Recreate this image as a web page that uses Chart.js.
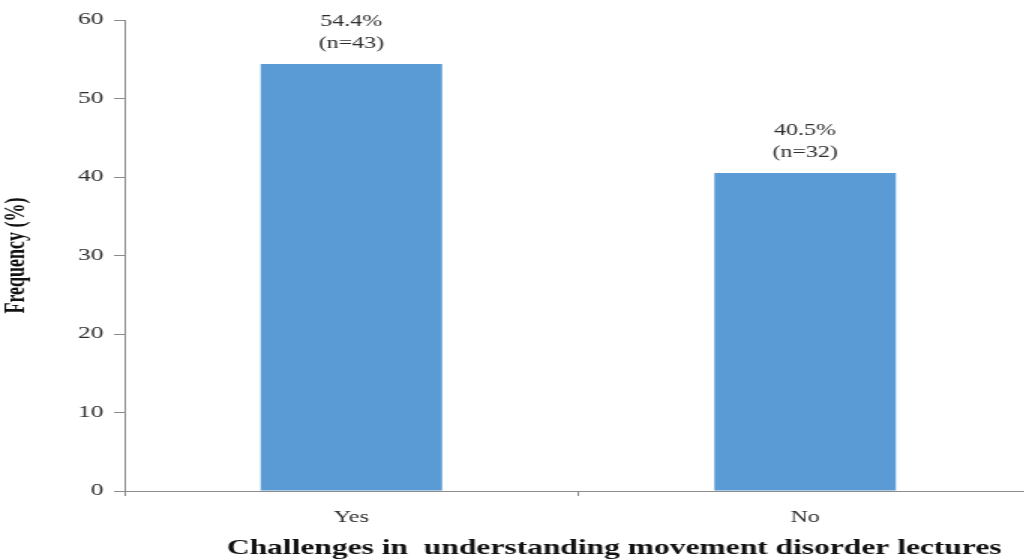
<!DOCTYPE html>
<html>
<head>
<meta charset="utf-8">
<title>Challenges in understanding movement disorder lectures</title>
<script src="https://cdn.jsdelivr.net/npm/chart.js@4.4.1/dist/chart.umd.min.js"></script>
<style>
  html, body { margin: 0; padding: 0; background: #ffffff; overflow: hidden; width: 1024px; height: 559px; }
  /* the chart is laid out narrow and widened 1.5x, giving the broad serif lettering */
  #wrap { position: absolute; left: 0; top: 0; width: 694px; height: 559px; transform: scaleX(1.5); transform-origin: 0 0; }
  canvas { display: block; }
</style>
</head>
<body>
<div id="wrap"><canvas id="chart" width="694" height="559"></canvas></div>
<script>
// Survey answers
const categories = ['Yes', 'No'];
const percentValues = [54.4, 40.5];
const respondentCounts = [43, 32];
const yTickValues = [0, 10, 20, 30, 40, 50, 60];

const xTitle = 'Challenges in  understanding movement disorder lectures';
const yTitle = 'Frequency (%)';

const serif = '"Liberation Serif", "Times New Roman", serif';
const axisGrey = '#8c8c8c';
const textGrey = '#2e2e2e';

// Two-line value label above each bar: percentage, then respondent count
const barLabels = {
  id: 'barLabels',
  afterDatasetsDraw(chart) {
    const ctx = chart.ctx;
    const meta = chart.getDatasetMeta(0);
    ctx.save();
    ctx.font = '16px ' + serif;
    ctx.fillStyle = textGrey;
    ctx.textAlign = 'center';
    ctx.textBaseline = 'middle';
    meta.data.forEach((bar, i) => {
      ctx.fillText(percentValues[i].toFixed(1) + '%', bar.x, bar.y - 42);
      ctx.fillText('(n=' + respondentCounts[i] + ')', bar.x, bar.y - 20);
    });
    ctx.restore();
  }
};

// Category axis caption, set slightly right of the plot centre
const xCaption = {
  id: 'xCaption',
  afterDraw(chart) {
    const ctx = chart.ctx;
    const area = chart.chartArea;
    ctx.save();
    ctx.font = 'bold 21px ' + serif;
    ctx.fillStyle = '#111111';
    ctx.textAlign = 'center';
    ctx.textBaseline = 'middle';
    ctx.fillText(xTitle, (area.left + area.right) / 2 + 24, 549);
    ctx.restore();
  }
};

new Chart(document.getElementById('chart'), {
  type: 'bar',
  data: {
    labels: categories,
    datasets: [{
      data: percentValues,
      backgroundColor: '#5b9bd5',
      borderWidth: 0,
      barPercentage: 0.4,
      categoryPercentage: 1.0
    }]
  },
  options: {
    responsive: false,
    animation: false,
    devicePixelRatio: 1,
    layout: { padding: { top: 20, right: 6, left: 0, bottom: 0 } },
    plugins: {
      legend: { display: false },
      tooltip: { enabled: false },
      title: { display: false }
    },
    scales: {
      x: {
        grid: { display: true, offset: true, drawOnChartArea: false, tickLength: 5, color: axisGrey },
        border: { display: true, color: axisGrey, width: 1 },
        ticks: { font: { family: serif, size: 16 }, color: textGrey, padding: 12, maxRotation: 0 },
        afterFit(scale) { scale.height = 68; }
      },
      y: {
        min: 0,
        max: 60,
        afterBuildTicks(scale) { scale.ticks = yTickValues.map(v => ({ value: v })); },
        grid: { display: true, drawOnChartArea: false, tickLength: 7, color: axisGrey },
        border: { display: true, color: axisGrey, width: 1 },
        ticks: { font: { family: serif, size: 17 }, color: textGrey, padding: 7 },
        title: {
          display: true,
          text: yTitle,
          font: { family: serif, size: 18, weight: 'bold' },
          color: '#111111',
          padding: { top: 1, bottom: 0 }
        },
        afterFit(scale) { scale.width = 83; }
      }
    }
  },
  plugins: [barLabels, xCaption]
});
</script>
</body>
</html>
